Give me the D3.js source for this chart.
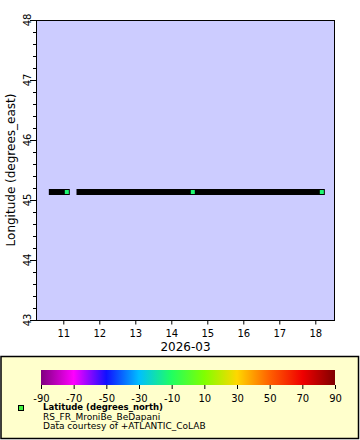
<!DOCTYPE html>
<html><head><meta charset="utf-8">
<script src="https://cdn.jsdelivr.net/npm/d3@7"></script>
<style>body{margin:0;background:#fff}svg{display:block;font-family:"DejaVu Sans",sans-serif}</style>
</head><body><svg id="c" width="360" height="440"></svg>
<script>
// ---- data ----
const xDomain = ["2026-03-10T05:48:00Z", "2026-03-18T13:08:00Z"];
const yDomain = [43, 48];
const yTicks = [43, 44, 45, 46, 47, 48];
const trackStart = ["2026-03-10T16:21:00Z", "2026-03-11T10:48:00Z"];
const trackEnd   = ["2026-03-11T02:20:00Z", "2026-03-18T04:21:00Z"];
const trackLon   = [45.133, 45.133];
const markTimes  = ["2026-03-11T02:20:00Z", "2026-03-14T14:20:00Z", "2026-03-18T04:21:00Z"];
const markLon    = [45.133, 45.133, 45.133];
const markLat    = [-12, -12, -12];
const cbTicks = [-90, -70, -50, -30, -10, 10, 30, 50, 70, 90];
const cbColors = ["#800080", "#ff00ff", "#1010ff", "#00bfff", "#20ff60", "#80ff00", "#ffd700", "#ff6000", "#f00000", "#800000"];
const xTitle = "2026-03";
const yTitle = "Longitude (degrees_east)";
const legendLines = ["Latitude (degrees_north)", "RS_FR_MroniBe_BeDapani", "Data courtesy of +ATLANTIC_CoLAB"];

const svg = d3.select("#c");
const L = 36, R = 335, T = 20, B = 320;
const x = d3.scaleUtc().domain(xDomain.map(d => new Date(d))).range([L, R]);
const y = d3.scaleLinear().domain(yDomain).range([B, T]);
const cScale = d3.scaleLinear().domain(cbTicks).range(cbColors);

svg.append("rect").attr("x", L).attr("y", T).attr("width", R - L).attr("height", B - T)
  .attr("fill", "#ccccff");

// track
const segs = trackStart.map((s, i) => ({s: new Date(s), e: new Date(trackEnd[i]), v: trackLon[i]}));
svg.append("g").selectAll("line").data(segs).join("line")
  .attr("x1", d => x(d.s)).attr("x2", d => x(d.e))
  .attr("y1", d => y(d.v)).attr("y2", d => y(d.v))
  .attr("stroke", "#000").attr("stroke-width", 6).attr("stroke-linecap", "square");
const marks = markTimes.map((t, i) => ({t: new Date(t), v: markLon[i], c: markLat[i]}));
svg.append("g").selectAll("rect").data(marks).join("rect")
  .attr("x", d => x(d.t) - 2).attr("y", d => y(d.v) - 2).attr("width", 4).attr("height", 4)
  .attr("fill", d => cScale(d.c));

// frame
svg.append("rect").attr("x", L + 0.5).attr("y", T + 0.5).attr("width", R - L - 1).attr("height", B - T)
  .attr("fill", "none").attr("stroke", "#000");

// x axis
const xAxis = d3.axisBottom(x).ticks(d3.utcDay.every(1)).tickFormat(d3.utcFormat("%-d")).tickSize(4).tickSizeOuter(0);
const gx = svg.append("g").attr("transform", `translate(0,${B + 0.5})`).call(xAxis);
gx.select(".domain").remove();
gx.selectAll("text").attr("font-size", 10).attr("font-family", "DejaVu Sans").attr("dy", "0.95em");

svg.append("text").attr("x", (L + R) / 2).attr("y", 351).attr("text-anchor", "middle")
  .attr("font-size", 12).text(xTitle);

// y axis
const yMinor = d3.range(0, 26).map(i => 43 + i * 0.2);
svg.append("g").selectAll("line").data(yMinor).join("line")
  .attr("x1", L - 3).attr("x2", L).attr("y1", d => Math.round(y(d)) + 0.5).attr("y2", d => Math.round(y(d)) + 0.5)
  .attr("stroke", "#000");
svg.append("g").selectAll("line").data(yTicks).join("line")
  .attr("x1", L - 6).attr("x2", L).attr("y1", d => Math.round(y(d)) + 0.5).attr("y2", d => Math.round(y(d)) + 0.5)
  .attr("stroke", "#000");
svg.append("g").selectAll("text").data(yTicks).join("text")
  .attr("transform", d => `translate(31,${y(d)}) rotate(-90)`)
  .attr("text-anchor", "middle").attr("font-size", 10).text(d => d);
svg.append("text").attr("transform", `translate(15,${(T + B) / 2}) rotate(-90)`)
  .attr("text-anchor", "middle").attr("font-size", 12).text(yTitle);

// legend
svg.append("rect").attr("x", 1).attr("y", 356.5).attr("width", 357.5).attr("height", 82)
  .attr("fill", "#ffffcc").attr("stroke", "#000").attr("stroke-width", 1.5);
const cb = d3.scaleLinear().domain([-90, 90]).range([41, 335]);
const grad = svg.append("defs").append("linearGradient").attr("id", "cbg");
grad.selectAll("stop").data(cbTicks).join("stop")
  .attr("offset", d => (d + 90) / 180).attr("stop-color", d => cScale(d));
svg.append("rect").attr("x", 41).attr("y", 370).attr("width", 294).attr("height", 15).attr("fill", "url(#cbg)");
const cbAxis = d3.axisBottom(cb).tickValues(cbTicks).tickFormat(d => String(d)).tickSize(4).tickSizeOuter(0);
const gc = svg.append("g").attr("transform", "translate(0,385)").call(cbAxis);
gc.select(".domain").remove();
gc.selectAll("text").attr("font-size", 10).attr("font-family", "DejaVu Sans").attr("dy", "0.95em");

svg.append("rect").attr("x", 18.5).attr("y", 405.5).attr("width", 5).attr("height", 5)
  .attr("fill", "#40f040").attr("stroke", "#000");
svg.append("g").selectAll("text").data(legendLines).join("text")
  .attr("x", 43).attr("y", (d, i) => 410 + i * 9.5)
  .attr("font-size", (d, i) => i === 0 ? 8.5 : 9).attr("font-weight", (d, i) => i === 0 ? "bold" : "normal").text(d => d);
</script></body></html>
